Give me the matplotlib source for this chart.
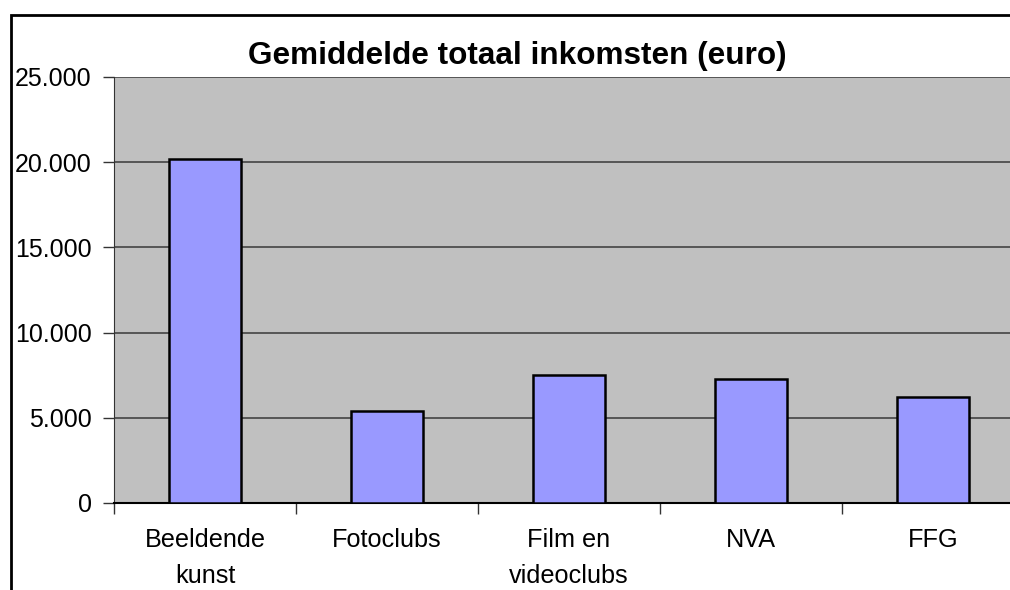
#!/usr/bin/env python3
import matplotlib.pyplot as plt
from matplotlib.patches import Rectangle
from matplotlib.ticker import FuncFormatter

# * Data

categories = ["Beeldende\nkunst", "Fotoclubs", "Film en\nvideoclubs", "NVA", "FFG"]
values = [20200, 5380, 7530, 7260, 6220]
y_ticks = [0, 5000, 10000, 15000, 20000, 25000]

plt.rcParams['font.family'] = ['Liberation Sans', 'DejaVu Sans']

W, H = 1010, 590
fig = plt.figure(figsize=(W / 100, H / 100), dpi=100)

# Chart area border (runs off the right and bottom edge).
fig.patches.append(Rectangle((11 / W, -0.1), 1.2, 1 - 15 / H + 0.1,
                             transform=fig.transFigure, fill=False,
                             edgecolor="black", linewidth=2, clip_on=False))

# Plot area: x 114 -> 1024 px (beyond the image), y 77 -> 503 px.
left, right, top, bottom = 114, 1024, 77, 503
ax = fig.add_axes([left / W, 1 - bottom / H, (right - left) / W, (bottom - top) / H])
ax.set_facecolor("#C0C0C0")

x = range(len(values))
ax.bar(x, values, width=0.4, color="#9999FF", edgecolor="black", linewidth=1.8, zorder=3)

ax.set_xlim(-0.5, len(values) - 0.5)
ax.set_ylim(0, 25000)
ax.set_yticks(y_ticks)
ax.yaxis.set_major_formatter(FuncFormatter(lambda v, p: "{:,.0f}".format(v).replace(",", ".")))
ax.grid(axis="y", color="#444444", linewidth=1.2, zorder=1)

# Category labels between boundary ticks.
ax.set_xticks([i + 0.5 for i in range(len(values) - 1)] + [-0.5])
ax.set_xticklabels([])
ax.set_xticks(list(x), minor=True)
ax.set_xticklabels(categories, minor=True, fontsize=18.2, linespacing=1.65)
ax.tick_params(axis="x", which="minor", length=0, pad=18)
ax.tick_params(axis="x", which="major", length=8, width=1, direction="out", color="#333333")
ax.tick_params(axis="y", length=8, width=1, color="#333333", labelsize=18, pad=8)

for side in ["top", "right"]:
    ax.spines[side].set_visible(False)
ax.spines["left"].set_color("#333333")
ax.spines["bottom"].set_color("black")
ax.spines["bottom"].set_linewidth(1.5)

fig.text(517 / W, 1 - 64 / H, "Gemiddelde totaal inkomsten (euro)", ha="center",
         va="baseline", fontsize=22.7, fontweight="bold")

fig.savefig("out.png", dpi=100)
